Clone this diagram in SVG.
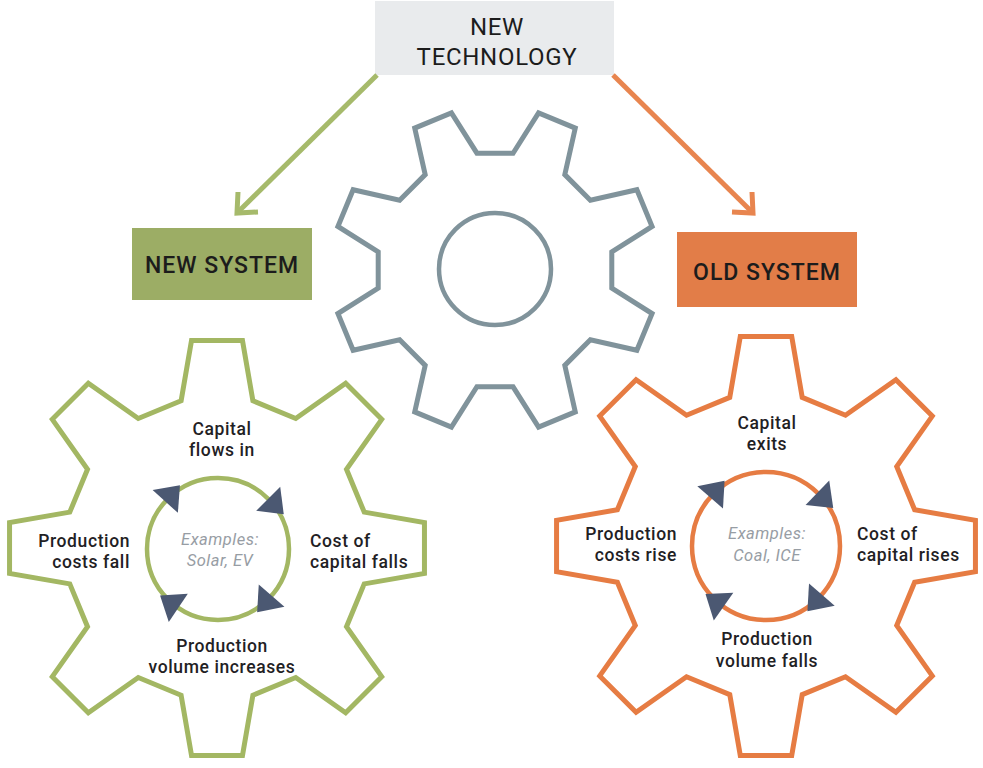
<svg xmlns="http://www.w3.org/2000/svg" xmlns:xlink="http://www.w3.org/1999/xlink" width="983" height="768" viewBox="0 0 983 768">
<style>
  .lbl{font-family:Roboto,"Liberation Sans",sans-serif;font-weight:500;font-size:17.5px;letter-spacing:0.6px;fill:#1f2124}
  .ex{font-family:Roboto,"Liberation Sans",sans-serif;font-style:italic;font-size:16.5px;letter-spacing:0.5px;fill:#979da4}
  .hd{font-family:Roboto,"Liberation Sans",sans-serif;font-weight:500;font-size:23px;letter-spacing:1px;fill:#1c1c1c}
  .ttl{font-family:Roboto,"Liberation Sans",sans-serif;font-weight:400;font-size:24px;letter-spacing:0.7px;fill:#1c1c1c}
  .mid{text-anchor:middle}
  .end{text-anchor:end}
  .tri{fill:#4b5872}
  .gear{fill:none;stroke-linejoin:miter}
  .conn{fill:none;stroke-width:5;stroke-linejoin:miter}
</style>
<defs>
  <path id="gearShape" d="M-17.17,-70.44 L-12.19,-99.26 L12.19,-99.26 L17.17,-70.44 L37.67,-61.95 L61.57,-78.81 L78.81,-61.57 L61.95,-37.67 L70.44,-17.17 L99.26,-12.19 L99.26,12.19 L70.44,17.17 L61.95,37.67 L78.81,61.57 L61.57,78.81 L37.67,61.95 L17.17,70.44 L12.19,99.26 L-12.19,99.26 L-17.17,70.44 L-37.67,61.95 L-61.57,78.81 L-78.81,61.57 L-61.95,37.67 L-70.44,17.17 L-99.26,12.19 L-99.26,-12.19 L-70.44,-17.17 L-61.95,-37.67 L-78.81,-61.57 L-61.57,-78.81 L-37.67,-61.95 Z"/>
  <path id="cyc" d="M0,-17 L22,0 L0,17 Z"/>
</defs>
<rect width="983" height="768" fill="#ffffff"/>

<g id="center-gear">
  <use href="#gearShape" xlink:href="#gearShape" class="gear" stroke="#80939b" stroke-width="3.07" transform="translate(495,270) rotate(22.5) scale(1.63)"/>
  <circle cx="495" cy="269" r="56" fill="none" stroke="#80939b" stroke-width="4.5"/>
</g>

<g id="new-technology">
  <rect x="375" y="1" width="239" height="74" fill="#e9ebed"/>
  <text class="ttl mid" x="497" y="35">NEW</text>
  <text class="ttl mid" x="497" y="65">TECHNOLOGY</text>
</g>

<g id="new-system">
  <rect x="132" y="228" width="180" height="72" fill="#9cad65"/>
  <text class="hd mid" x="222" y="273">NEW SYSTEM</text>
</g>

<g id="old-system">
  <rect x="677" y="232" width="180" height="75" fill="#e27d48"/>
  <text class="hd mid" x="767" y="280">OLD SYSTEM</text>
</g>

<g id="new-gear">
  <use href="#gearShape" xlink:href="#gearShape" class="gear" stroke="#a3b763" stroke-width="2.39" transform="translate(217,548) scale(2.09)"/>
  <circle cx="218" cy="549" r="71" fill="none" stroke="#a3b763" stroke-width="4.5"/>
  <use href="#cyc" xlink:href="#cyc" class="tri" transform="translate(218,549) rotate(312) translate(0,-71)"/>
  <use href="#cyc" xlink:href="#cyc" class="tri" transform="translate(218,549) rotate(45) translate(0,-71)"/>
  <use href="#cyc" xlink:href="#cyc" class="tri" transform="translate(218,549) rotate(131) translate(0,-71)"/>
  <use href="#cyc" xlink:href="#cyc" class="tri" transform="translate(218,549) rotate(214) translate(0,-71)"/>
  <text class="lbl mid" x="222" y="435">Capital</text>
  <text class="lbl mid" x="222" y="456">flows in</text>
  <text class="lbl end" x="130" y="547">Production</text>
  <text class="lbl end" x="130" y="568">costs fall</text>
  <text class="lbl" x="310" y="547">Cost of</text>
  <text class="lbl" x="310" y="568">capital falls</text>
  <text class="ex mid" x="220" y="545">Examples:</text>
  <text class="ex mid" x="220" y="566">Solar, EV</text>
  <text class="lbl mid" x="222" y="652">Production</text>
  <text class="lbl mid" x="222" y="673">volume increases</text>
</g>

<g id="old-gear">
  <use href="#gearShape" xlink:href="#gearShape" class="gear" stroke="#e67c43" stroke-width="2.37" transform="translate(766,546) scale(2.11)"/>
  <circle cx="766" cy="546" r="74" fill="none" stroke="#e67c43" stroke-width="4.5"/>
  <use href="#cyc" xlink:href="#cyc" class="tri" transform="translate(766,546) rotate(311) translate(0,-74)"/>
  <use href="#cyc" xlink:href="#cyc" class="tri" transform="translate(766,546) rotate(44) translate(0,-74)"/>
  <use href="#cyc" xlink:href="#cyc" class="tri" transform="translate(766,546) rotate(131) translate(0,-74)"/>
  <use href="#cyc" xlink:href="#cyc" class="tri" transform="translate(766,546) rotate(215) translate(0,-74)"/>
  <text class="lbl mid" x="767" y="429">Capital</text>
  <text class="lbl mid" x="767" y="450">exits</text>
  <text class="lbl end" x="677" y="540">Production</text>
  <text class="lbl end" x="677" y="561">costs rise</text>
  <text class="lbl" x="857" y="540">Cost of</text>
  <text class="lbl" x="857" y="561">capital rises</text>
  <text class="ex mid" x="767" y="539">Examples:</text>
  <text class="ex mid" x="767" y="561">Coal, ICE</text>
  <text class="lbl mid" x="767" y="645">Production</text>
  <text class="lbl mid" x="767" y="667">volume falls</text>
</g>

<g id="connectors">
  <path class="conn" stroke="#a6ba6b" d="M377,75 L237,213"/>
  <path class="conn" stroke="#a6ba6b" d="M238,192 L237,213 L258,212"/>
  <path class="conn" stroke="#e8854f" d="M613,75 L753,213"/>
  <path class="conn" stroke="#e8854f" d="M732,212 L753,213 L752,192"/>
</g>
</svg>
